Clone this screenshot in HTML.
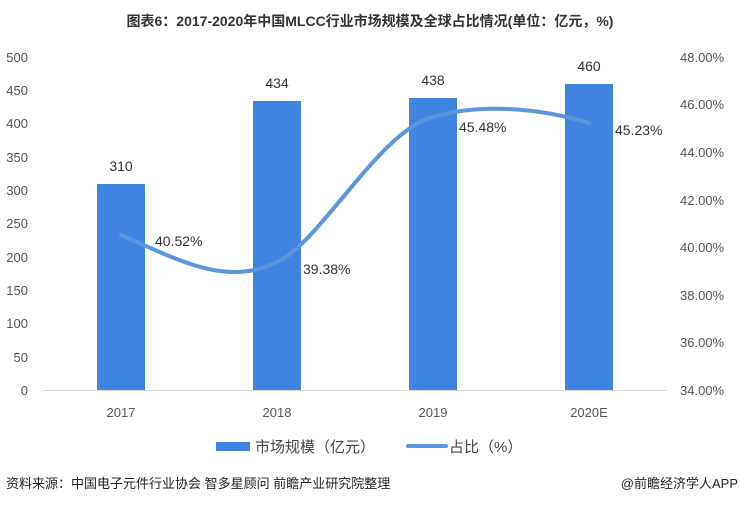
<!DOCTYPE html>
<html><head><meta charset="utf-8"><style>
body{margin:0;background:#fff;}
svg text{font-family:"Liberation Sans","Noto Sans CJK SC",sans-serif;}
</style></head><body>
<svg width="741" height="504" xmlns="http://www.w3.org/2000/svg">
<rect width="741" height="504" fill="#fff"/>
<text x="370" y="26" text-anchor="middle" font-size="14" font-weight="bold" fill="#333">图表6：2017-2020年中国MLCC行业市场规模及全球占比情况(单位：亿元，%)</text>
<g font-size="13" fill="#555" text-anchor="end">
<text x="28" y="62">500</text><text x="28" y="95">450</text><text x="28" y="128">400</text><text x="28" y="162">350</text><text x="28" y="195">300</text><text x="28" y="228">250</text><text x="28" y="262">200</text><text x="28" y="295">150</text><text x="28" y="328">100</text><text x="28" y="362">50</text><text x="28" y="395">0</text>
</g>
<g font-size="13" fill="#555">
<text x="680" y="62">48.00%</text><text x="680" y="109">46.00%</text><text x="680" y="157">44.00%</text><text x="680" y="205">42.00%</text><text x="680" y="252">40.00%</text><text x="680" y="300">38.00%</text><text x="680" y="347">36.00%</text><text x="680" y="395">34.00%</text>
</g>
<line x1="43" y1="390.5" x2="667" y2="390.5" stroke="#d9d9d9"/>
<g fill="#3f84e0">
<rect x="97" y="184" width="48" height="206"/>
<rect x="253" y="101" width="48" height="289"/>
<rect x="409" y="98" width="48" height="292"/>
<rect x="565" y="84" width="48" height="306"/>
</g>
<path d="M121,235 C175,258 225,288 277,262 C320,243 380,130 433,117 C480,103 540,108 589,123" fill="none" stroke="#5b95dd" stroke-width="4" stroke-linecap="round"/>
<g font-size="14" fill="#333" text-anchor="middle">
<text x="121" y="171">310</text><text x="277" y="88">434</text><text x="433" y="85">438</text><text x="589" y="71">460</text>
</g>
<g font-size="14" fill="#333">
<text x="155" y="246">40.52%</text><text x="303" y="274">39.38%</text><text x="459" y="132">45.48%</text><text x="615" y="135">45.23%</text>
</g>
<g font-size="13" fill="#555" text-anchor="middle">
<text x="121" y="417">2017</text><text x="277" y="417">2018</text><text x="433" y="417">2019</text><text x="589" y="417">2020E</text>
</g>
<rect x="216" y="442" width="34" height="9" fill="#3f84e0"/>
<text x="255" y="452" font-size="15" fill="#444">市场规模（亿元）</text>
<line x1="408" y1="446" x2="446" y2="446" stroke="#5b95dd" stroke-width="4" stroke-linecap="round"/>
<text x="449" y="452" font-size="15" fill="#444">占比（%）</text>
<text x="6" y="488" font-size="13" fill="#222">资料来源：中国电子元件行业协会 智多星顾问 前瞻产业研究院整理</text>
<text x="738" y="488" font-size="13" fill="#222" text-anchor="end">@前瞻经济学人APP</text>
</svg>
</body></html>
